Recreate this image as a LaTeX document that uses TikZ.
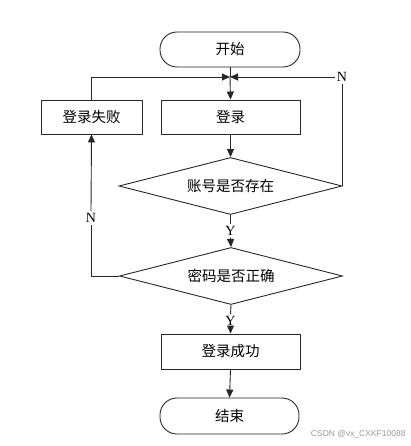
\documentclass[tikz,border=0pt]{standalone}
\usepackage{fontspec}
\setmainfont{Liberation Serif}
\newfontfamily\cjk{Noto Sans CJK SC}
\newfontfamily\wmfont{Liberation Sans}
\usetikzlibrary{arrows.meta,shapes.geometric}
\begin{document}
\begin{tikzpicture}[x=1pt,y=-1pt,
  line width=0.9pt,
  base/.style={draw=black!85, font=\cjk\fontsize{14.5}{15}\selectfont, inner sep=0pt},
  term/.style={base, rounded corners=17pt, minimum width=140pt, minimum height=35pt},
  proc/.style={base, rectangle, minimum width=139pt, minimum height=34pt},
  dec/.style={base, diamond, shape aspect=3.9, minimum width=223pt, minimum height=57pt},
  lbl/.style={font=\fontsize{14}{14}\selectfont, inner sep=1.5pt},
  arr/.style={-{Triangle[length=8pt,width=7pt]}},
  ln/.style={draw=black!85}
]
\useasboundingbox (0,0) rectangle (410,446);
\node[term] (start) at (230,49.5) {开始};
\coordinate (J) at (230,77);
\node[proc] (login) at (230.5,117) {登录};
\node[proc, minimum width=101pt] (fail) at (91.5,117) {登录失败};
\node[dec] (d1) at (230.5,186) {账号是否存在};
\node[dec] (d2) at (231,276) {密码是否正确};
\node[proc, minimum height=35pt] (ok) at (230.5,351.5) {登录成功};
\node[term, minimum width=139pt, minimum height=36pt] (end) at (229.5,416) {结束};

\node[lbl] (Y1) at (230.5,231) {Y};
\node[lbl] (Y2) at (230.5,321) {Y};
\node[lbl] (Nr) at (342,77) {N};
\node[lbl] (Nl) at (91,218) {N};

\draw[ln] (start.south) -- (J);
\draw[ln,arr] (J) -- (login.north);
\draw[ln,arr] (login.south) -- (d1.north);
\draw[ln] (d1.south) -- (Y1.north);
\draw[ln,arr] (Y1.south) -- (d2.north);
\draw[ln] (d2.south) -- (Y2.north);
\draw[ln,arr] (Y2.south) -- (ok.north);
\draw[ln,arr] (ok.south) -- (end.north);
\draw[ln] (d1.east) -- (d1.east |- Nr.south);
\draw[ln,arr] (Nr.west) -- (J);
\draw[ln] (d2.west) -| (Nl.south);
\draw[ln,arr] (Nl.north) -- (fail.south);
\draw[ln,arr] (fail.north) |- (J);

\node[font=\wmfont\fontsize{8.5}{9}\selectfont, text=black!40, anchor=east, inner sep=0pt] (wm) at (406,434) {CSDN @vx\_CXKF10088};
\end{tikzpicture}
\end{document}
